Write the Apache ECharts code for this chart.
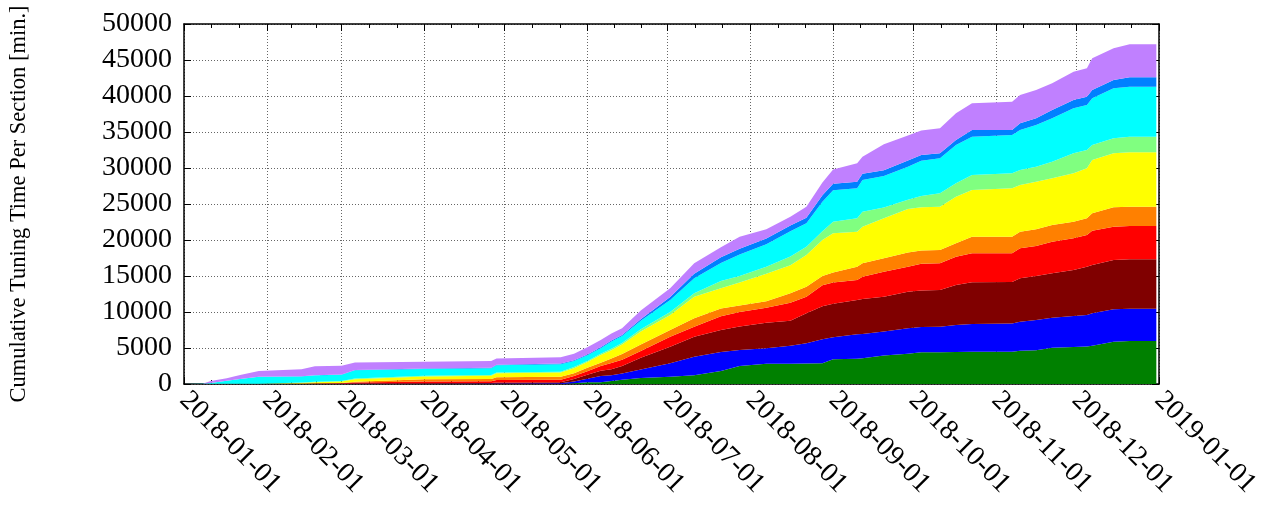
<!DOCTYPE html>
<html>
<head>
<meta charset="utf-8">
<script src="https://cdn.jsdelivr.net/npm/echarts@6/dist/echarts.min.js"></script>
<style>
html,body{margin:0;padding:0;background:#fff;}
#chart{width:1283px;height:521px;}
</style>
</head>
<body>
<div id="chart"></div>
<script>
// Sample dates
const dates = ['2018-01-01','2018-01-08','2018-01-11','2018-01-17','2018-01-22','2018-01-29','2018-02-14','2018-02-19','2018-03-01','2018-03-06',
 '2018-04-01','2018-04-26','2018-04-28','2018-05-22','2018-05-27','2018-06-01','2018-06-06','2018-06-10','2018-06-14','2018-06-21',
 '2018-07-02','2018-07-11','2018-07-21','2018-07-28','2018-08-07','2018-08-16','2018-08-22','2018-08-28','2018-09-01','2018-09-10',
 '2018-09-12','2018-09-20','2018-09-29','2018-10-04','2018-10-11','2018-10-17','2018-10-23','2018-11-07','2018-11-10','2018-11-16',
 '2018-11-22','2018-11-30','2018-12-05','2018-12-07','2018-12-15','2018-12-21','2018-12-31'];

// Per-section cumulative tuning time [min.] (stacked, bottom to top)
const sec1 = [0,0,0,0,0,0,0,0,0,0, 0,0,0,0,100,230,250,400,600,830, 1000,1200,1800,2500,2800,2800,2850,2870,3450,3500, 3560,3950,4200,4400,4420,4440,4470,4490,4630,4700, 5050,5150,5200,5300,5880,5970,5970];
const sec2 = [0,0,0,0,0,0,0,0,20,30, 50,60,80,100,250,490,860,800,850,1170, 1870,2590,2650,2220,2150,2500,2800,3330,3050,3400, 3390,3350,3530,3500,3540,3750,3860,3930,4020,4190, 4160,4290,4380,4520,4490,4490,4490];
const sec3 = [0,0,0,0,0,0,20,30,30,50, 70,80,120,150,350,550,740,850,1050,1660, 2310,2780,3050,3280,3550,3500,4170,4600,4650,4770, 4850,4830,5090,5100,5100,5560,5790,5730,6030,6110, 6160,6390,6720,6710,6850,6850,6850];
const sec4 = [0,0,0,0,0,0,20,30,50,120, 210,240,350,350,400,510,650,850,880,910, 1390,1390,1900,2000,2100,2500,2310,2900,2950,2770, 3110,3470,3480,3700,3700,3930,4030,4000,4160,4170, 4400,4400,4390,4770,4630,4630,4630];
const sec5 = [0,0,0,0,0,0,20,30,50,100, 320,320,380,400,400,470,460,630,770,930, 930,1160,1100,900,900,1300,1390,1300,1400,1860, 1850,1850,1950,1850,1850,1860,2310,2310,2320,2310, 2310,2310,2320,2400,2690,2690,2690];
const sec6 = [0,0,0,0,0,0,90,160,200,350, 400,450,570,600,700,800,1070,1170,1330,1800, 2080,3010,2800,3200,3800,3900,4400,5000,5430,4860, 5090,5560,6050,6000,6020,6480,6480,6720,6480,6620, 6480,6720,6940,7410,7500,7550,7550];
const sec7 = [0,0,20,30,40,50,50,50,50,100, 100,100,100,100,150,150,170,200,220,300, 420,470,1000,900,1000,1200,1150,1200,1610,1850, 2080,1490,1300,1550,1850,1850,2090,2080,2080,2080, 2320,2780,2550,2080,2080,2170,2170];
const sec8 = [0,20,130,420,660,950,850,900,900,1150, 950,950,1000,1050,850,780,750,1000,950,1200, 1670,2080,2500,3000,3100,3500,3240,4100,4360,4170, 4400,4400,4580,4900,4860,5320,5320,5320,5560,5790, 6020,6250,6250,6490,6950,6940,6940];
const sec9 = [0,0,0,10,10,20,30,30,30,50, 50,50,80,80,100,100,150,150,150,200, 430,620,800,800,800,800,790,900,900,920, 870,800,870,800,700,700,930,700,930,930, 1160,1150,1160,1150,1150,1300,1300];
const sec10 = [0,30,270,340,540,780,970,1220,1220,1050, 950,950,870,870,900,1020,1010,950,950,1200, 1190,1460,1400,1660,1300,1240,1530,1800,2000,2550, 2370,3600,3450,3400,3470,3700,3700,3930,3930,3930, 3700,3940,3930,4400,4400,4590,4590];

const sectionNames = ['Section 1','Section 2','Section 3','Section 4','Section 5','Section 6','Section 7','Section 8','Section 9','Section 10'];
const sectionColors = ['#008000','#0000ff','#800000','#ff0000','#ff8000','#ffff00','#80ff80','#00ffff','#0080ff','#c080ff'];
const sections = [sec1,sec2,sec3,sec4,sec5,sec6,sec7,sec8,sec9,sec10];

const yTicks = {min:0, max:50000, interval:5000};
const yTitle = 'Cumulative Tuning Time Per Section [min.]';

const FONT = '"Liberation Serif", "DejaVu Serif", serif';
const DAY = 86400000;

function fmt(v){
  const d = new Date(v);
  const p = n => (n<10?'0':'')+n;
  return d.getFullYear()+'-'+p(d.getMonth()+1)+'-'+p(d.getDate());
}

const xMin = new Date(2018,0,1).getTime();
const xMax = new Date(2019,0,1).getTime();

const series = sections.map((arr,i)=>({
  name: sectionNames[i],
  type: 'line',
  stack: 'total',
  xAxisIndex: 0, yAxisIndex: 0,
  showSymbol: false,
  symbol: 'none',
  lineStyle: {width: 0},
  areaStyle: {color: sectionColors[i], opacity: 1},
  itemStyle: {color: sectionColors[i]},
  data: dates.map((d,j)=>[d, arr[j]]),
  animation: false,
  z: 2
}));

const gridLine = {show:true, lineStyle:{color:'#666', type:[1,2], width:1}};
const axisLineStyle = {show:true, onZero:false, lineStyle:{color:'#000', width:1.5}};

const chart = echarts.init(document.getElementById('chart'), null, {renderer:'canvas'});
chart.setOption({
  animation: false,
  backgroundColor: '#fff',
  grid: {left:182, right:124, top:24, bottom:137, containLabel:false},
  xAxis: [{
    type:'time', min:xMin, max:xMax, minInterval: 28*DAY, maxInterval: 31*DAY,
    position:'bottom',
    axisLine: axisLineStyle,
    axisTick: {show:true, inside:true, length:7, lineStyle:{color:'#000'}},
    minorTick: {show:true, splitNumber:3, length:4, lineStyle:{color:'#000'}},
    splitLine: gridLine,
    axisLabel: {show:true, rotate:-45, margin:12, fontFamily:FONT, fontSize:28, color:'#000',
      formatter: fmt, showMinLabel:true, showMaxLabel:true, hideOverlap:false, interval:0}
  },{
    type:'time', min:xMin, max:xMax, minInterval: 28*DAY, maxInterval: 31*DAY,
    position:'top',
    axisLine: axisLineStyle,
    axisTick: {show:true, inside:true, length:7, lineStyle:{color:'#000'}},
    minorTick: {show:true, splitNumber:3, length:4, lineStyle:{color:'#000'}},
    splitLine: {show:false},
    axisLabel: {show:false}
  }],
  yAxis: [{
    type:'value', min:yTicks.min, max:yTicks.max, interval:yTicks.interval,
    position:'left',
    name: yTitle, nameLocation:'middle', nameGap:153, nameRotate:90,
    nameTextStyle:{fontFamily:FONT, fontSize:22.5, color:'#000'},
    axisLine: axisLineStyle,
    axisTick: {show:true, inside:true, length:7, lineStyle:{color:'#000'}},
    splitLine: gridLine,
    axisLabel: {fontFamily:FONT, fontSize:28, color:'#000', margin:12, formatter: v => String(v)}
  },{
    type:'value', min:yTicks.min, max:yTicks.max, interval:yTicks.interval,
    position:'right',
    axisLine: axisLineStyle,
    axisTick: {show:true, inside:true, length:7, lineStyle:{color:'#000'}},
    splitLine: {show:false},
    axisLabel: {show:false}
  }],
  series: series
});
</script>
</body>
</html>
